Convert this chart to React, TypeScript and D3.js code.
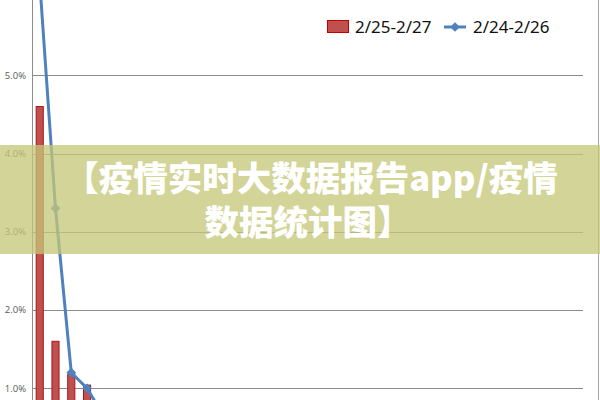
import { useRef, useEffect } from "react";
import * as d3 from "d3";

const CATEGORIES = Array.from({ length: 35 }, (_, i) => `${i + 1}`);
const SERIES_BAR_NAME = "2/25-2/27";
const SERIES_LINE_NAME = "2/24-2/26";
const BAR_VALUES = [
  4.6, 1.6, 1.18, 1.04, 0.8, 0.72, 0.64, 0.58, 0.52, 0.48, 0.44, 0.4, 0.37, 0.34, 0.31, 0.29, 0.27,
  0.25, 0.23, 0.21, 0.2, 0.18, 0.17, 0.16, 0.15, 0.14, 0.13, 0.12, 0.11, 0.1, 0.09, 0.08, 0.07, 0.06, 0.05,
];
const LINE_VALUES = [
  6.2, 3.3, 1.2, 1.0, 0.66, 0.6, 0.55, 0.5, 0.46, 0.42, 0.39, 0.36, 0.33, 0.31, 0.29, 0.27, 0.25,
  0.23, 0.21, 0.2, 0.19, 0.17, 0.16, 0.15, 0.14, 0.13, 0.12, 0.11, 0.1, 0.09, 0.08, 0.07, 0.06, 0.05, 0.04,
];
const Y_TICKS = [1, 2, 3, 4, 5, 6];
const OVERLAY_LINES = ["【疫情实时大数据报告app/疫情", "数据统计图】"];

export default function App() {
  const svgRef = useRef<SVGSVGElement>(null);

  useEffect(() => {
    document.body.style.margin = "0";
    if (!svgRef.current) return;

    const W = 600;
    const H = 400;
    const left = 33;
    const right = 583;

    const svg = d3.select(svgRef.current);
    svg.selectAll("*").remove();
    svg.attr("width", W).attr("height", H).attr("viewBox", `0 0 ${W} ${H}`);

    svg.append("rect").attr("width", W).attr("height", H).attr("fill", "#fff");

    const x = d3.scaleBand<string>().domain(CATEGORIES).range([left, right]).paddingInner(0.55).paddingOuter(0.2);
    const y = d3.scaleLinear().domain([0, 6]).range([466.5, -3]);

    // gridlines
    svg.selectAll(".grid")
      .data(Y_TICKS)
      .join("line")
      .attr("x1", left)
      .attr("x2", right)
      .attr("y1", (d) => Math.round(y(d)) + 0.5)
      .attr("y2", (d) => Math.round(y(d)) + 0.5)
      .attr("stroke", "#8c8c8c")
      .attr("stroke-width", 1);

    // tick labels (the top one is cut by the crop, as in the source)
    svg.selectAll(".ytick")
      .data(Y_TICKS)
      .join("text")
      .attr("x", 26)
      .attr("y", (d) => y(d))
      .attr("dy", "0.35em")
      .attr("text-anchor", "end")
      .style("font-family", '"Open Sans", sans-serif')
      .style("font-size", "9.5px")
      .style("fill", "#595959")
      .text((d) => `${d.toFixed(1)}%`);

    // y axis line
    svg.append("line")
      .attr("x1", left - 0.5)
      .attr("x2", left - 0.5)
      .attr("y1", 0)
      .attr("y2", H)
      .attr("stroke", "#8c8c8c");

    // outer border on right
    svg.append("line")
      .attr("x1", 598.5)
      .attr("x2", 598.5)
      .attr("y1", 0)
      .attr("y2", H)
      .attr("stroke", "#a6a6a6");

    // bars
    svg.selectAll(".bar")
      .data(BAR_VALUES)
      .join("rect")
      .attr("x", (_, i) => x(CATEGORIES[i])!)
      .attr("width", x.bandwidth())
      .attr("y", (d) => y(d))
      .attr("height", (d) => y(0) - y(d))
      .attr("fill", "#c0504d")
      .attr("stroke", "#a8141a")
      .attr("stroke-width", 1);

    // line
    const cx = (i: number) => x(CATEGORIES[i])! + x.bandwidth() / 2;
    const line = d3.line<number>().x((_, i) => cx(i)).y((d) => y(d));
    svg.append("path")
      .datum(LINE_VALUES)
      .attr("d", line)
      .attr("fill", "none")
      .attr("stroke", "#4f81bd")
      .attr("stroke-width", 3)
      .attr("stroke-linejoin", "round");

    const diamond = d3.symbol().type(d3.symbolDiamond2).size(60);
    svg.selectAll(".marker")
      .data(LINE_VALUES)
      .join("path")
      .attr("transform", (d, i) => `translate(${cx(i)},${y(d)})`)
      .attr("d", diamond)
      .attr("fill", "#4f81bd");

    // legend
    const lg = svg.append("g");
    lg.append("rect")
      .attr("x", 327.5)
      .attr("y", 20.5)
      .attr("width", 21)
      .attr("height", 12)
      .attr("fill", "#c0504d")
      .attr("stroke", "#c00000");
    lg.append("text")
      .attr("x", 355)
      .attr("y", 33)
      .style("font-family", '"Noto Sans", sans-serif')
      .style("font-size", "17px")
      .style("fill", "#111")
      .text(SERIES_BAR_NAME);
    lg.append("line")
      .attr("x1", 444)
      .attr("x2", 466)
      .attr("y1", 27)
      .attr("y2", 27)
      .attr("stroke", "#4f81bd")
      .attr("stroke-width", 3);
    lg.append("path")
      .attr("transform", "translate(455,27)")
      .attr("d", diamond)
      .attr("fill", "#4f81bd");
    lg.append("text")
      .attr("x", 473)
      .attr("y", 33)
      .style("font-family", '"Noto Sans", sans-serif')
      .style("font-size", "17px")
      .style("fill", "#111")
      .text(SERIES_LINE_NAME);

    // watermark band
    svg.append("rect")
      .attr("x", 0)
      .attr("y", 145)
      .attr("width", W)
      .attr("height", 109)
      .attr("fill", "rgb(197,199,118)")
      .attr("opacity", 0.76);

    const overlayX = [311, 308];
    svg.selectAll(".overlay-text")
      .data(OVERLAY_LINES)
      .join("text")
      .attr("x", (_, i) => overlayX[i])
      .attr("y", (_, i) => 191 + i * 44)
      .attr("text-anchor", "middle")
      .style("font-family", '"Noto Sans CJK SC", sans-serif')
      .style("font-size", "34.5px")
      .style("font-weight", "900")
      .style("fill", "#fff")
      .text((d) => d);
  }, []);

  return <svg ref={svgRef} style={{ display: "block" }} />;
}
